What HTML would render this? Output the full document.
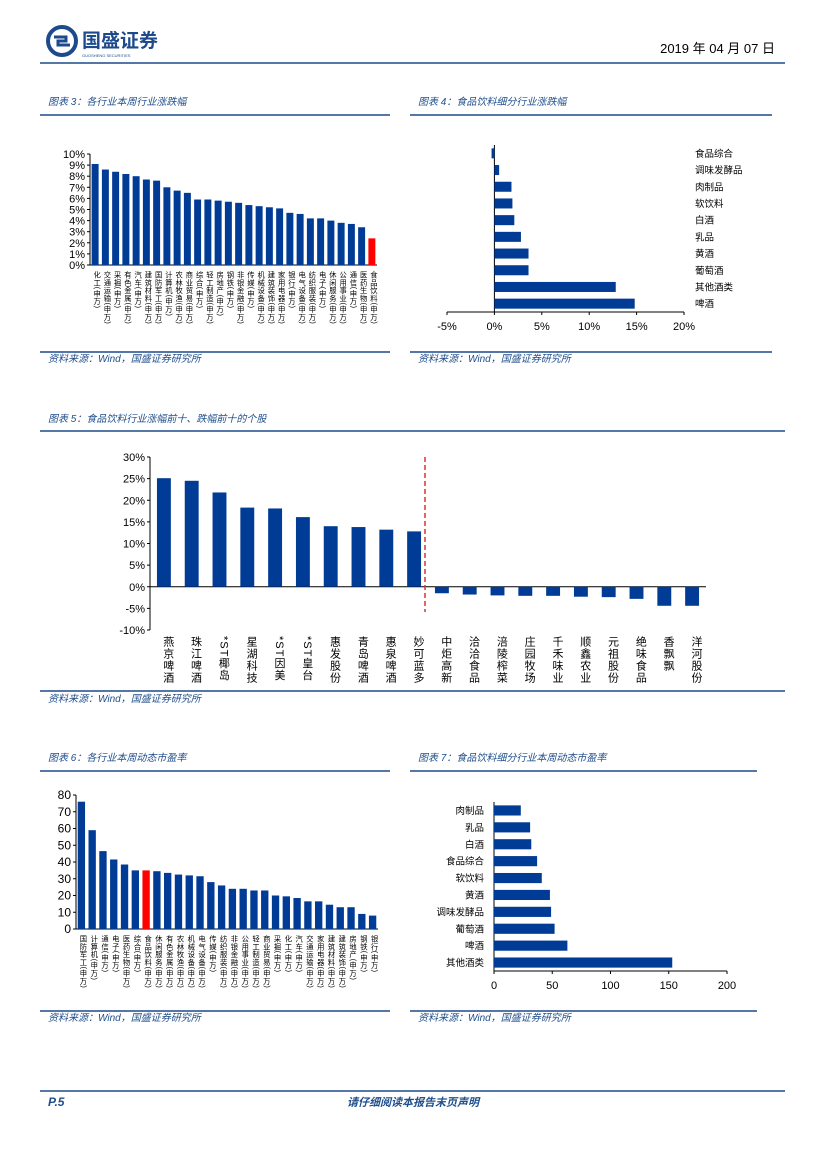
<!DOCTYPE html>
<html><head><meta charset="utf-8"><style>
body{margin:0;background:#fff;}
svg text{font-family:"Liberation Sans","Noto Sans CJK SC",sans-serif;}
</style></head><body>
<svg id="pg" width="827" height="1169" viewBox="0 0 827 1169" xmlns="http://www.w3.org/2000/svg">
<g>
<circle cx="62" cy="41" r="14" fill="none" stroke="#1d4a8c" stroke-width="4"/>
<path d="M54 37h12v4h-8v4h12" stroke="#1d4a8c" stroke-width="3" fill="none"/>
<text x="82" y="47" font-size="19" font-weight="bold" fill="#1d4a8c">国盛证券</text>
<text x="82" y="57" font-size="4" fill="#1d4a8c">GUOSHENG SECURITIES</text>
<text x="775" y="53" font-size="13" text-anchor="end" fill="#000">2019 年 04 月 07 日</text>
<line x1="40" y1="63" x2="785" y2="63" stroke="#1d4a8c" stroke-width="1.5"/>
</g>
<g font-style="italic" font-size="10" fill="#1f4e8c">
<text x="48" y="105">图表 3：各行业本周行业涨跌幅</text>
<text x="418" y="105">图表 4：食品饮料细分行业涨跌幅</text>
<text x="48" y="422">图表 5：食品饮料行业涨幅前十、跌幅前十的个股</text>
<text x="48" y="761">图表 6：各行业本周动态市盈率</text>
<text x="418" y="761">图表 7：食品饮料细分行业本周动态市盈率</text>
<text x="48" y="362">资料来源：Wind，国盛证券研究所</text>
<text x="418" y="362">资料来源：Wind，国盛证券研究所</text>
<text x="48" y="702">资料来源：Wind，国盛证券研究所</text>
<text x="48" y="1021">资料来源：Wind，国盛证券研究所</text>
<text x="418" y="1021">资料来源：Wind，国盛证券研究所</text>
</g>
<g stroke="#1d4a8c" stroke-width="1.5">
<line x1="40" y1="115" x2="390" y2="115"/><line x1="410" y1="115" x2="772" y2="115"/>
<line x1="40" y1="352" x2="390" y2="352"/><line x1="410" y1="352" x2="772" y2="352"/>
<line x1="40" y1="431" x2="785" y2="431"/><line x1="40" y1="691" x2="785" y2="691"/>
<line x1="40" y1="771" x2="390" y2="771"/><line x1="410" y1="771" x2="757" y2="771"/>
<line x1="40" y1="1011" x2="390" y2="1011"/><line x1="410" y1="1011" x2="757" y2="1011"/>
<line x1="40" y1="1091" x2="785" y2="1091"/>
</g>
<text x="48" y="1106" font-size="12" font-weight="bold" font-style="italic" fill="#1f4e8c">P.5</text>
<text x="413" y="1106" font-size="11" font-weight="bold" font-style="italic" fill="#1f4e8c" text-anchor="middle">请仔细阅读本报告末页声明</text>
<g id="charts"></g>
</svg>
<script>
const c3Cats=["化工","交通运输","采掘","有色金属","汽车","建筑材料","国防军工","计算机","农林牧渔","商业贸易","综合","轻工制造","房地产","钢铁","非银金融","传媒","机械设备","建筑装饰","家用电器","银行","电气设备","纺织服装","电子","休闲服务","公用事业","通信","医药生物","食品饮料"];
const c3Vals=[9.1,8.6,8.4,8.2,8.0,7.7,7.6,7.0,6.7,6.5,5.9,5.9,5.8,5.7,5.6,5.4,5.3,5.2,5.1,4.7,4.6,4.2,4.2,4.0,3.8,3.7,3.4,2.4];
const c3Ticks=[0,1,2,3,4,5,6,7,8,9,10];
const c4Cats=["食品综合","调味发酵品","肉制品","软饮料","白酒","乳品","黄酒","葡萄酒","其他酒类","啤酒"];
const c4Vals=[-0.3,0.5,1.8,1.9,2.1,2.8,3.6,3.6,12.8,14.8];
const c4Ticks=[-5,0,5,10,15,20];
const c5Cats=["燕京啤酒","珠江啤酒","*ST椰岛","星湖科技","*ST因美","*ST皇台","惠发股份","青岛啤酒","惠泉啤酒","妙可蓝多","中炬高新","洽洽食品","涪陵榨菜","庄园牧场","千禾味业","顺鑫农业","元祖股份","绝味食品","香飘飘","洋河股份"];
const c5Vals=[25.1,24.5,21.8,18.3,18.1,16.1,14.0,13.8,13.2,12.8,-1.5,-1.8,-2.0,-2.1,-2.1,-2.3,-2.4,-2.8,-4.4,-4.4];
const c5Ticks=[-10,-5,0,5,10,15,20,25,30];
const c6Cats=["国防军工","计算机","通信","电子","医药生物","综合","食品饮料","休闲服务","有色金属","农林牧渔","机械设备","电气设备","传媒","纺织服装","非银金融","公用事业","轻工制造","商业贸易","采掘","化工","汽车","交通运输","家用电器","建筑材料","建筑装饰","房地产","钢铁","银行"];
const c6Vals=[76,59,46.5,41.5,38.5,35,35,34.5,33.5,32.5,32,31.5,28,26,24,24,23,23,20,19.5,18.5,16.5,16.5,14.5,13,13,9,8];
const c6Ticks=[0,10,20,30,40,50,60,70,80];
const c7Cats=["肉制品","乳品","白酒","食品综合","软饮料","黄酒","调味发酵品","葡萄酒","啤酒","其他酒类"];
const c7Vals=[23,31,32,37,41,48,49,52,63,153];
const c7Ticks=[0,50,100,150,200];

const NS="http://www.w3.org/2000/svg";
const root=document.getElementById('charts');
function mk(tag,attrs,txt){const e=document.createElementNS(NS,tag);for(const k in attrs)e.setAttribute(k,attrs[k]);if(txt!==undefined)e.textContent=txt;root.appendChild(e);return e;}
const BLUE="#003b95",RED="#ff0000";

function vchart(id,cats,vals,ticks,x0,x1,yTop,yBot,vMin,vMax,fmt,barFrac,labelSize,highlight,tickFont,labelMode){
  const y=v=>yBot-(v-vMin)/(vMax-vMin)*(yBot-yTop);
  const n=cats.length, step=(x1-x0)/n;
  mk('line',{x1:x0,y1:yTop,x2:x0,y2:yBot,stroke:'#000','stroke-width':1});
  ticks.forEach(t=>{
    mk('line',{x1:x0-3,y1:y(t),x2:x0,y2:y(t),stroke:'#000'});
    const tl=mk('text',{x:x0-5,y:y(t)+4,'font-size':tickFont,'text-anchor':'end',fill:'#000'},fmt(t));
    
    
  });
  const zy=y(Math.max(0,vMin));
  mk('line',{x1:x0,y1:zy,x2:x1,y2:zy,stroke:'#000'});
  cats.forEach((c,i)=>{
    const cx=x0+step*(i+0.5), w=step*barFrac, v=vals[i];
    const r=mk('rect',{x:cx-w/2,y:Math.min(y(v),zy),width:w,height:Math.abs(y(v)-zy),fill:highlight===c?RED:BLUE});
    
    
    const ly=yBot+6;
    const t=mk('text',{x:cx+labelSize*0.35,y:ly,'font-size':labelSize,'writing-mode':'tb',fill:'#000','letter-spacing':labelMode?1:0.6},labelMode?c:c+"(申万)");
    
    
  });
  return y;
}
vchart('chart3',c3Cats,c3Vals,c3Ticks,90,377,154,265,0,10,t=>t+'%',0.68,7.3,'食品饮料',11,false);
vchart('chart6',c6Cats,c6Vals,c6Ticks,76,378,795,929,0,80,t=>t,0.68,7.3,'食品饮料',12,false);
vchart('chart5',c5Cats,c5Vals,c5Ticks,150,706,457,630,-10,30,t=>t+'%',0.5,11,null,11,true);
mk('line',{x1:425,y1:457,x2:425,y2:612,stroke:'#e03030','stroke-width':1.5,'stroke-dasharray':'5,3'});

function hchart(id,cats,vals,ticks,x0,x1,vMin,vMax,yTop,yBot,fmt,labelX,anchor){
  const x=v=>x0+(v-vMin)/(vMax-vMin)*(x1-x0);
  const n=cats.length, step=(yBot-yTop)/n;
  mk('line',{x1:x0,y1:yBot,x2:x1,y2:yBot,stroke:'#000'});
  ticks.forEach(t=>{
    mk('line',{x1:x(t),y1:yBot,x2:x(t),y2:yBot+3,stroke:'#000'});
    const tl=mk('text',{x:x(t),y:yBot+18,'font-size':11,'text-anchor':'middle',fill:'#000'},fmt(t));
    
    
  });
  const zx=x(Math.max(0,vMin));
  mk('line',{x1:zx,y1:yTop,x2:zx,y2:yBot,stroke:'#000'});
  cats.forEach((c,i)=>{
    const cy=yTop+step*(i+0.5), h=step*0.6, v=vals[i];
    const r=mk('rect',{x:Math.min(x(v),zx),y:cy-h/2,width:Math.abs(x(v)-zx),height:h,fill:BLUE});
    
    
    const t=mk('text',{x:labelX,y:cy+3.5,'font-size':9.5,'text-anchor':anchor,fill:'#000'},c);
    
    
  });
}
hchart('chart4',c4Cats,c4Vals,c4Ticks,447,684,-5,20,145,312,t=>t+'%',695,'start');
hchart('chart7',c7Cats,c7Vals,c7Ticks,494,727,0,200,802,971,t=>t,484,'end');
</script>
</body></html>
